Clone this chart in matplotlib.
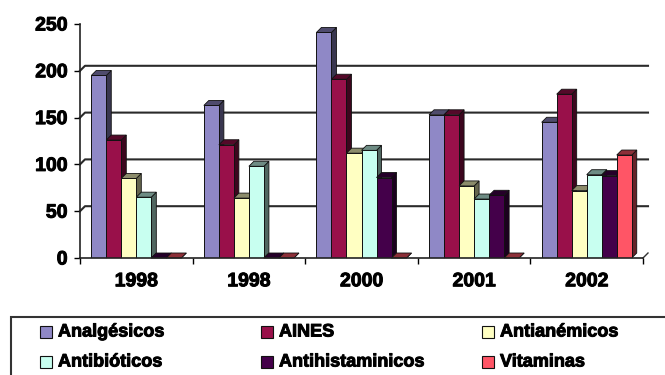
import matplotlib
matplotlib.use("Agg")
import matplotlib.pyplot as plt
from matplotlib.patches import Polygon, Rectangle
import matplotlib.patheffects as pe
import numpy as np

plt.rcParams['font.family'] = ['Liberation Sans', 'DejaVu Sans']

categories = ["1998", "1998", "2000", "2001", "2002"]
series_names = ["Analgésicos", "AINES", "Antianémicos", "Antibióticos",
                "Antihistaminicos", "Vitaminas"]
analgesicos = [195, 163, 241, 153, 145]
aines = [126, 121, 191, 153, 175]
antianemicos = [85, 64, 112, 77, 72]
antibioticos = [65, 98, 115, 63, 89]
antihistaminicos = [0, 0, 86, 67, 88]
vitaminas = [0, 0, 0, 0, 110]
series_values = [analgesicos, aines, antianemicos, antibioticos,
                 antihistaminicos, vitaminas]
colors = ["#8F88C6", "#99104A", "#FFFFC2", "#C8FFF0", "#44004A", "#FF5566"]
yticks = [0, 50, 100, 150, 200, 250]

W, H = 665, 375
fig = plt.figure(figsize=(W / 100, H / 100), dpi=100)
ax = fig.add_axes([80 / W, 1 - 258 / H, 563 / W, 234 / H])
ax.set_xlim(-0.5, 4.5)
ax.set_ylim(0, 250)

# depth offsets (in data units) for pseudo-3D
dx = 5 / (563 / 5)
dy = 5 / (234 / 250)

def shade(c, f):
    r, g, b = matplotlib.colors.to_rgb(c)
    return (r * f, g * f, b * f)

heavy = [pe.withStroke(linewidth=0.7, foreground="black")]

# back wall grid lines
for v in yticks[1:-1]:
    ax.plot([-0.5, -0.5 + dx, 4.5 + dx], [v, v + dy, v + dy],
            color="#2a2a2a", lw=1.5, zorder=0.5, clip_on=False)
ax.plot([4.5, 4.5 + dx], [0, dy], color="#333333", lw=1, zorder=0.5, clip_on=False)

n = len(series_values)
bw = 0.8 / n
x = np.arange(len(categories))
for s, (vals, col) in enumerate(zip(series_values, colors)):
    base = 3 + s * 0.1
    xs = x - 0.4 + bw * s + bw / 2
    bars = ax.bar(xs, vals, width=bw, color=col, edgecolor="#111111",
                  linewidth=0.7, zorder=base + 0.05)
    for b in bars:
        x0 = b.get_x()
        x1 = x0 + b.get_width()
        v = b.get_height()
        side = Polygon([(x1, 0), (x1 + dx, dy), (x1 + dx, v + dy), (x1, v)],
                       closed=True, facecolor=shade(col, 0.4), edgecolor="#111111",
                       linewidth=0.6, zorder=base, clip_on=False)
        top = Polygon([(x0, v), (x0 + dx, v + dy), (x1 + dx, v + dy), (x1, v)],
                      closed=True, facecolor=shade(col, 0.55), edgecolor="#111111",
                      linewidth=0.6, zorder=base, clip_on=False)
        ax.add_patch(side)
        ax.add_patch(top)

for sp in ["top", "right"]:
    ax.spines[sp].set_visible(False)
for sp in ["left", "bottom"]:
    ax.spines[sp].set_linewidth(1.2)
    ax.spines[sp].set_color("#222222")
    ax.spines[sp].set_zorder(10)

ax.set_yticks(yticks)
ax.set_yticklabels([str(t) for t in yticks], fontsize=14, fontweight="bold")
ax.set_xticks(x)
ax.set_xticklabels(categories, fontsize=14, fontweight="bold")
ax.set_xticks(np.arange(-0.5, 4.6, 1.0), minor=True)
ax.tick_params(axis="x", which="major", length=0, pad=11)
ax.tick_params(axis="x", which="minor", length=4, width=1, direction="out")
ax.tick_params(axis="y", length=4, width=1, direction="out", pad=5)
for lbl in ax.get_xticklabels() + ax.get_yticklabels():
    lbl.set_path_effects(heavy)

# legend (manual, box extends past figure edge)
fig.patches.append(Rectangle((11 / W, -0.2), 1.2, 1 - 317 / H + 0.2,
                             transform=fig.transFigure, fill=False,
                             edgecolor="#333333", linewidth=1.5))
col_x = [40, 261, 482]
row_y = [332, 362]
for i, (name, col) in enumerate(zip(series_names, colors)):
    r, c = divmod(i, 3)
    mx, my = col_x[c], row_y[r]
    fig.patches.append(Rectangle((mx / W, 1 - (my + 6) / H), 12 / W, 12 / H,
                                 transform=fig.transFigure, facecolor=col,
                                 edgecolor="#111111", linewidth=0.8))
    fig.text((mx + 18) / W, 1 - my / H, name, fontsize=13, fontweight="bold",
             va="center", ha="left", path_effects=heavy)

fig.savefig("out.png", dpi=100)
